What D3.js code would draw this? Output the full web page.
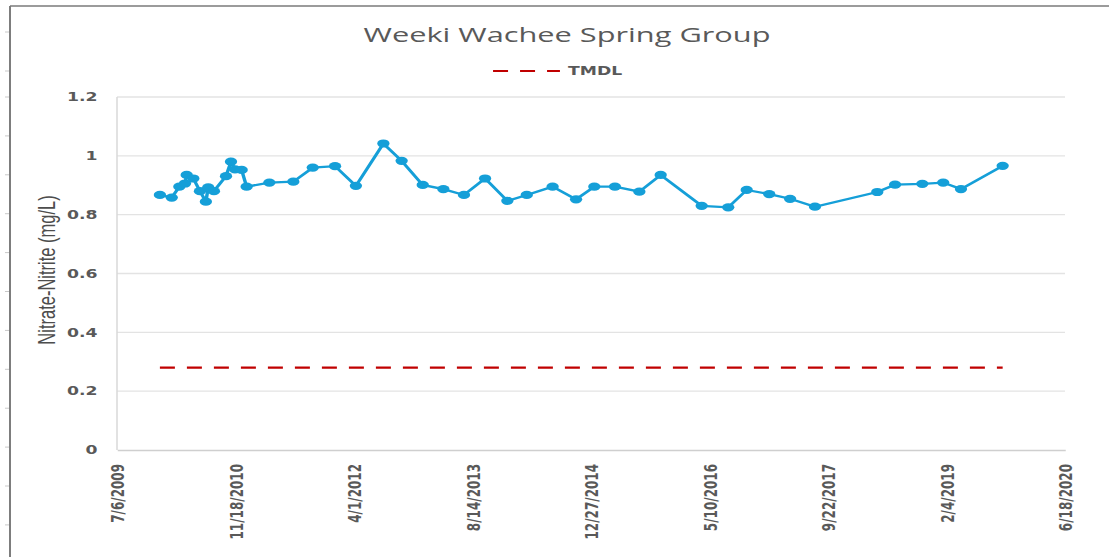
<!DOCTYPE html>
<html>
<head>
<meta charset="utf-8">
<title>Weeki Wachee Spring Group</title>
<script src="https://cdn.jsdelivr.net/npm/d3@7"></script>
<style>
	body { margin: 0; background: #fff; }
	svg { display: block; }
</style>
</head>
<body>

<svg class="chart" width="1109" height="557"></svg>

<script>
// sampling dates and nitrate-nitrite readings (mg/L)
var sampleDates = ['2010-01-03', '2010-02-22', '2010-03-26', '2010-04-19', '2010-04-26', '2010-05-24',
	'2010-06-21', '2010-07-16', '2010-07-26', '2010-08-19', '2010-10-09', '2010-10-30', '2010-11-16',
	'2010-12-14', '2011-01-04', '2011-04-10', '2011-07-20', '2011-10-10', '2012-01-12', '2012-04-09',
	'2012-08-03', '2012-10-19', '2013-01-16', '2013-04-13', '2013-07-09', '2013-10-06', '2014-01-08',
	'2014-03-31', '2014-07-18', '2014-10-25', '2015-01-10', '2015-04-07', '2015-07-19', '2015-10-17',
	'2016-04-07', '2016-07-28', '2016-10-14', '2017-01-17', '2017-04-15', '2017-07-29', '2018-04-18',
	'2018-07-02', '2018-10-25', '2019-01-21', '2019-04-06', '2019-09-29']
var nitrate = [0.867, 0.858, 0.895, 0.906, 0.935, 0.923,
	0.880, 0.844, 0.893, 0.880, 0.931, 0.980, 0.954,
	0.952, 0.895, 0.909, 0.912, 0.960, 0.965, 0.898,
	1.042, 0.983, 0.901, 0.887, 0.867, 0.923, 0.847,
	0.867, 0.895, 0.852, 0.895, 0.895, 0.878, 0.935,
	0.830, 0.825, 0.884, 0.870, 0.854, 0.827, 0.877,
	0.902, 0.905, 0.909, 0.887, 0.966]
var tmdl = 0.28

var xTickDates = ['2009-07-06', '2010-11-18', '2012-04-01', '2013-08-14', '2014-12-27',
	'2016-05-10', '2017-09-22', '2019-02-04', '2020-06-18']
var yTicks = [0, 0.2, 0.4, 0.6, 0.8, 1, 1.2]

// the picture is stretched sideways, so draw in a narrower box and let the viewBox widen it
var stretch = 1.5
var W = 1109 / stretch, H = 557
var plot = {left: 78, right: 710, top: 97, bottom: 450}
var grey = '#595959', blue = '#159fd8', red = '#c00000'

var parse = d3.timeParse('%Y-%m-%d')
var fmt = d3.timeFormat('%-m/%-d/%Y')
var dates = sampleDates.map(parse)
var ticks = xTickDates.map(parse)
var data = dates.map(function(d, i) { return {date: d, value: nitrate[i]} })

var svg = d3.select('.chart')
	.attr('viewBox', '0 0 ' + W + ' ' + H)
	.attr('preserveAspectRatio', 'none')

var x = d3.scaleTime().domain([ticks[0], ticks[ticks.length - 1]]).range([plot.left, plot.right])
var y = d3.scaleLinear().domain([0, 1.2]).range([plot.bottom, plot.top])

// outer frame with row marks on the left
var frameX = 10 / stretch
var rowMarks = [32, 71].concat(d3.range(97, H, 38.9))
svg.selectAll('.row-mark').data(rowMarks).enter().append('line')
	.attr('x1', 3.3).attr('x2', frameX)
	.attr('y1', function(d) { return d }).attr('y2', function(d) { return d })
	.attr('stroke', '#c8c8c8').attr('stroke-width', 1)
svg.append('line').attr('x1', frameX).attr('x2', W).attr('y1', 6).attr('y2', 6)
	.attr('stroke', '#7a7a7a').attr('stroke-width', 1.6)
svg.append('line').attr('x1', frameX).attr('x2', frameX).attr('y1', 6).attr('y2', H)
	.attr('stroke', '#7a7a7a').attr('stroke-width', 1.3)

// gridlines
svg.selectAll('.grid').data(yTicks.slice(1)).enter().append('line')
	.attr('x1', plot.left).attr('x2', plot.right)
	.attr('y1', function(d) { return y(d) }).attr('y2', function(d) { return y(d) })
	.attr('stroke', '#e3e3e3').attr('stroke-width', 1.3)
svg.append('line').attr('x1', plot.left).attr('x2', plot.left).attr('y1', plot.top).attr('y2', plot.bottom)
	.attr('stroke', '#d9d9d9').attr('stroke-width', 1)

// axes
var yAxis = svg.append('g')
	.attr('transform', 'translate(' + plot.left + ',0)')
	.call(d3.axisLeft(y).tickValues(yTicks).tickSize(0).tickPadding(13)
		.tickFormat(function(d) { return String(+d.toFixed(1)) }))
yAxis.select('.domain').remove()
yAxis.selectAll('text')
	.attr('fill', grey)
	.style('font', 'bold 11.5px "DejaVu Sans"')

var xAxis = svg.append('g')
	.attr('transform', 'translate(0,' + plot.bottom + ')')
	.call(d3.axisBottom(x).tickValues(ticks).tickSize(0).tickFormat(fmt))
xAxis.select('.domain').attr('stroke', '#cfcfcf').attr('stroke-width', 1.5)
xAxis.selectAll('text')
	.attr('fill', grey)
	.style('font', 'bold 12px "DejaVu Sans"')
	.attr('text-anchor', 'end')
	.attr('transform', 'translate(0,14) rotate(-90)')
	.attr('x', 0).attr('y', 0).attr('dy', '0.35em')

// TMDL reference line spans the sampling period
svg.append('line')
	.attr('x1', x(dates[0])).attr('x2', x(dates[dates.length - 1]))
	.attr('y1', y(tmdl)).attr('y2', y(tmdl))
	.attr('stroke', red).attr('stroke-width', 2.2).attr('stroke-dasharray', '10 8')

// series
var line = d3.line()
	.x(function(d) { return x(d.date) })
	.y(function(d) { return y(d.value) })
svg.append('path').datum(data)
	.attr('d', line)
	.attr('fill', 'none').attr('stroke', blue).attr('stroke-width', 2.3)
svg.selectAll('.pt').data(data).enter().append('circle')
	.attr('cx', function(d) { return x(d.date) })
	.attr('cy', function(d) { return y(d.value) })
	.attr('r', 4.1)
	.attr('fill', blue)

// title, legend, axis title
svg.append('text')
	.attr('x', 378).attr('y', 42)
	.attr('text-anchor', 'middle')
	.attr('fill', grey)
	.style('font', '20.5px "Open Sans"')
	.text('Weeki Wachee Spring Group')

svg.append('line')
	.attr('x1', 328.7).attr('x2', 373.3).attr('y1', 71).attr('y2', 71)
	.attr('stroke', red).attr('stroke-width', 2.2).attr('stroke-dasharray', '10 8')
svg.append('text')
	.attr('x', 378.7).attr('y', 75.3)
	.attr('fill', grey)
	.style('font', 'bold 11.5px "DejaVu Sans"')
	.text('TMDL')

svg.append('text')
	.attr('transform', 'translate(30.7,270) rotate(-90)')
	.attr('text-anchor', 'middle')
	.attr('dy', '0.35em')
	.attr('fill', '#4d4d4d')
	.style('font', '16.5px "Liberation Sans"')
	.text('Nitrate-Nitrite (mg/L)')
</script>

</body>
</html>
